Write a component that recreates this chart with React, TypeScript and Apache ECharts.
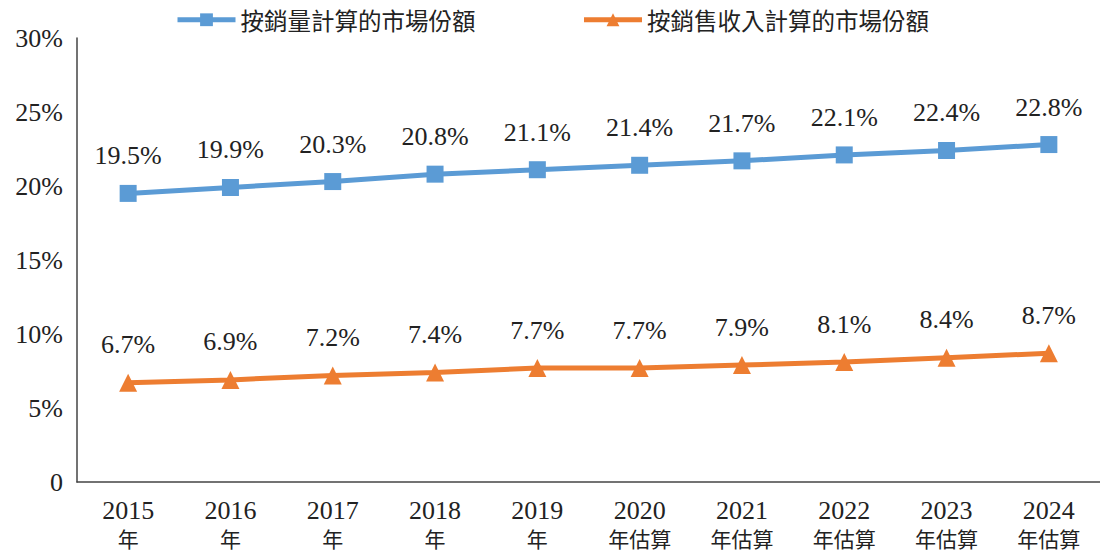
import React, { useEffect, useRef } from "react";
import * as echarts from "echarts";

const categories = ["2015年", "2016年", "2017年", "2018年", "2019年", "2020年估算", "2021年估算", "2022年估算", "2023年估算", "2024年估算"];
const volumeShare = [19.5, 19.9, 20.3, 20.8, 21.1, 21.4, 21.7, 22.1, 22.4, 22.8];
const revenueShare = [6.7, 6.9, 7.2, 7.4, 7.7, 7.7, 7.9, 8.1, 8.4, 8.7];
const seriesNames = ["按銷量計算的市場份額", "按銷售收入計算的市場份額"];
const yTicks = [0, 5, 10, 15, 20, 25, 30];

const SERIF = "Liberation Serif";
const CJK = "Noto Sans CJK TC";

export default function App() {
  const ref = useRef<HTMLDivElement>(null);
  useEffect(() => {
    const chart = echarts.init(ref.current!, null, { renderer: "svg" });
    chart.setOption({
      animation: false,
      backgroundColor: "#ffffff",
      legend: {
        top: 3,
        left: 170,
        itemWidth: 58,
        itemHeight: 16,
        itemGap: 106,
        lineStyle: { width: 5 },
        textStyle: { fontFamily: CJK, fontSize: 23.5, color: "#222" },
        data: seriesNames,
      },
      grid: { left: 77, right: -1, top: 38, bottom: 71, containLabel: false },
      xAxis: {
        type: "category",
        data: categories,
        boundaryGap: true,
        axisLine: { show: true, lineStyle: { color: "#444", width: 1.5 } },
        axisTick: { show: false },
        axisLabel: {
          margin: 14,
          interval: 0,
          formatter: (v: string) => {
            const y = v.slice(0, 4);
            const rest = v.slice(4);
            return `{y|${y}}\n{c|${rest}}`;
          },
          rich: {
            y: { fontFamily: SERIF, fontSize: 26, color: "#222", lineHeight: 29 },
            c: { fontFamily: CJK, fontSize: 21, color: "#222", lineHeight: 26 },
          },
        },
      },
      yAxis: {
        type: "value",
        min: yTicks[0],
        max: yTicks[yTicks.length - 1],
        interval: 5,
        splitLine: { show: false },
        axisLine: { show: true, lineStyle: { color: "#444", width: 1.5 } },
        axisTick: { show: false },
        axisLabel: {
          margin: 14,
          fontFamily: SERIF,
          fontSize: 26,
          color: "#222",
          formatter: (v: number) => (v === 0 ? "0" : `${v}%`),
        },
      },
      series: [
        {
          name: seriesNames[0],
          type: "line",
          data: volumeShare,
          symbol: "rect",
          symbolSize: 17,
          itemStyle: { color: "#5B9BD5" },
          lineStyle: { color: "#5B9BD5", width: 5 },
          label: {
            show: true,
            position: "top",
            distance: 16,
            fontFamily: SERIF,
            fontSize: 26,
            color: "#222",
            formatter: (p: any) => `${p.value.toFixed(1)}%`,
          },
        },
        {
          name: seriesNames[1],
          type: "line",
          data: revenueShare,
          symbol: "triangle",
          symbolSize: 18,
          itemStyle: { color: "#ED7D31" },
          lineStyle: { color: "#ED7D31", width: 5 },
          label: {
            show: true,
            position: "top",
            distance: 16,
            fontFamily: SERIF,
            fontSize: 26,
            color: "#222",
            formatter: (p: any) => `${p.value.toFixed(1)}%`,
          },
        },
      ],
    });
    return () => chart.dispose();
  }, []);
  return <div ref={ref} style={{ position: "fixed", left: 0, top: 0, width: 1100, height: 553 }} />;
}
